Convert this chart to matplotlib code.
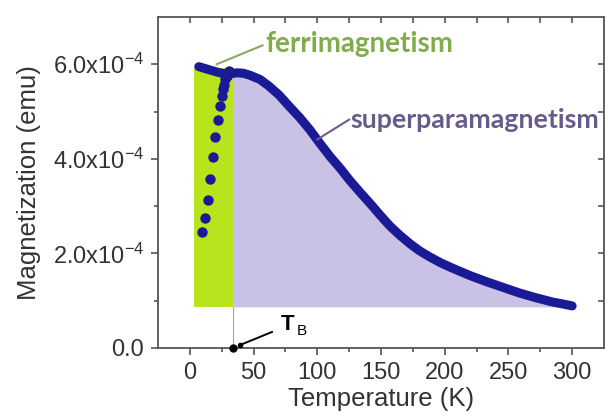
import numpy as np
import matplotlib
matplotlib.use("Agg")
import matplotlib.pyplot as plt

plt.rcParams['font.family'] = ['Liberation Sans', 'DejaVu Sans']
plt.rcParams['mathtext.fontset'] = 'custom'
plt.rcParams['mathtext.rm'] = 'Liberation Sans'
plt.rcParams['mathtext.it'] = 'Liberation Sans:italic'
plt.rcParams['mathtext.bf'] = 'Liberation Sans:bold'

# field-cooled curve, M in units of 1e-4 emu
fc_T = [7, 12, 17, 22, 27, 32, 37, 42, 47, 55, 62, 70, 78, 86, 94, 102, 110,
        118, 125, 133, 141, 149, 157, 165, 173, 180, 188, 197, 206, 220, 233,
        246, 259, 272, 285, 293, 300]
fc_M = [5.95, 5.91, 5.87, 5.83, 5.80, 5.80, 5.82, 5.81, 5.77, 5.68, 5.54, 5.35,
        5.11, 4.88, 4.62, 4.33, 4.05, 3.80, 3.56, 3.31, 3.07, 2.82, 2.58, 2.38,
        2.20, 2.06, 1.93, 1.80, 1.69, 1.53, 1.40, 1.28, 1.16, 1.06, 0.97, 0.93,
        0.89]

# zero-field-cooled points
zfc_T = [9.9, 12.0, 13.9, 16.0, 17.8, 19.9, 21.7, 23.6, 25.2, 26.3, 27.0, 27.8,
         28.9, 30.0, 31.0]
zfc_M = [2.46, 2.75, 3.14, 3.57, 4.04, 4.46, 4.83, 5.11, 5.33, 5.47, 5.57, 5.68,
         5.76, 5.82, 5.85]

T_B = 33.5
fill_base = 0.87
green_T = [3.5, T_B]
green_top = 5.93

fc_T = np.array(fc_T)
fc_M = np.array(fc_M) * 1e-4
zfc_M = np.array(zfc_M) * 1e-4

fig = plt.figure(figsize=(6.08, 4.16), dpi=100)
ax = fig.add_axes([158 / 608, 1 - 348 / 416, (604 - 158) / 608, (348 - 17) / 416])

blue = '#1a1a96'
ax.fill_between(green_T, fill_base * 1e-4, green_top * 1e-4, color='#b8e41e', lw=0, zorder=1)
sel = fc_T >= T_B
ax.fill_between(np.concatenate([[T_B], fc_T[sel]]),
                fill_base * 1e-4,
                np.concatenate([[np.interp(T_B, fc_T, fc_M)], fc_M[sel]]),
                color='#c9c1e6', lw=0, zorder=1)
ax.plot([T_B, T_B], [0, fill_base * 1e-4], color='#9aa6c4', lw=0.8, zorder=1)

ax.plot(fc_T, fc_M, color=blue, lw=6.5, solid_capstyle='round', solid_joinstyle='round', zorder=3)
ax.plot(zfc_T, zfc_M, 'o', color=blue, ms=6.5, mec=blue, zorder=3)

# annotations
ax.plot([21, 57], [6.0e-4, 6.4e-4], color='#8aa862', lw=1.5, zorder=4)
ax.text(59, 6.25e-4, 'ferrimagnetism', color='#80ad4a', fontsize=20,
        fontweight='bold', family='Lato', va='baseline', ha='left')
ax.plot([100, 125], [4.41e-4, 4.83e-4], color='#6b5e8c', lw=1.5, zorder=4)
ax.text(126, 4.66e-4, 'superparamagnetism', color='#675b8a', fontsize=19.3,
        fontweight='bold', family='Lato', va='baseline', ha='left', clip_on=False)

ax.plot([T_B], [0], 'o', color='black', ms=5, clip_on=False, zorder=5)
ax.plot([39.5, 64.5], [0.064e-4, 0.34e-4], color='black', lw=1.4, clip_on=False, zorder=5)
ax.plot([39.5], [0.064e-4], 'o', color='black', ms=3, clip_on=False, zorder=5)
ax.text(71.5, 0.5e-4, 'T', fontsize=16, fontweight='bold', va='center', ha='left')
ax.text(83.5, 0.36e-4, 'B', fontsize=11, va='center', ha='left')

ax.set_xlim(-25, 325)
ax.set_ylim(0, 7e-4)

gray = '#555555'
for s in ax.spines.values():
    s.set_color(gray)
    s.set_linewidth(1.3)

ax.set_xticks([0, 50, 100, 150, 200, 250, 300])
ax.set_xticks([25, 75, 125, 175, 225, 275], minor=True)
ax.set_yticks([0, 2e-4, 4e-4, 6e-4])
ax.set_yticklabels(['0.0', r'2.0x10$^{-4}$', r'4.0x10$^{-4}$', r'6.0x10$^{-4}$'])
ax.set_yticks([1e-4, 3e-4, 5e-4], minor=True)
ax.tick_params(which='both', direction='out', color=gray, labelcolor='#333333',
               labelsize=17, width=1.2)
ax.tick_params(which='major', length=5)
ax.tick_params(which='minor', length=3)
ax.tick_params(axis='x', pad=5)
ax.tick_params(axis='y', pad=5)

top = ax.secondary_xaxis('top')
top.set_xticks(np.arange(0, 325, 25))
top.tick_params(direction='in', length=4, color=gray, labeltop=False, width=1.2)
top.spines['top'].set_visible(False)
right = ax.secondary_yaxis('right')
right.set_yticks(np.arange(1e-4, 7e-4, 1e-4))
right.tick_params(direction='in', length=4, color=gray, labelright=False, width=1.2)
right.spines['right'].set_visible(False)

ax.set_xlabel('Temperature (K)', fontsize=18.5, color='#333333', labelpad=2)
ax.set_ylabel('Magnetization (emu)', fontsize=18.5, color='#333333', labelpad=8)

fig.savefig('out.png', dpi=100)
